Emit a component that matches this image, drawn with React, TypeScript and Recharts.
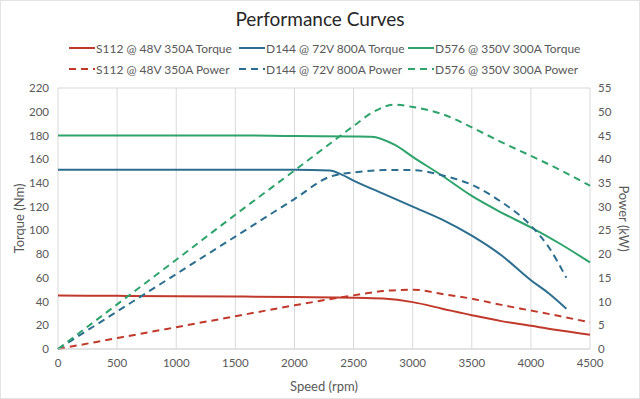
import React from 'react';
import {
  LineChart,
  Line,
  XAxis,
  YAxis,
  CartesianGrid,
} from 'recharts';

const speedTicks = [0, 500, 1000, 1500, 2000, 2500, 3000, 3500, 4000, 4500];
const torqueTicks = [0, 20, 40, 60, 80, 100, 120, 140, 160, 180, 200, 220];
const powerTicks = [0, 5, 10, 15, 20, 25, 30, 35, 40, 45, 50, 55];

const s112Speed = [0, 500, 1000, 1500, 2000, 2500, 2750, 3000, 3250, 3500, 3750, 4000, 4250, 4500];
const s112Torque = [45, 44.8, 44.5, 44.2, 43.8, 43.3, 42.5, 39.5, 34, 28.5, 23.5, 19.6, 15.5, 12];
const s112Power = [0, 2.3, 4.6, 6.9, 9.2, 11.3, 12.2, 12.5, 11.6, 10.6, 9.3, 8.1, 6.9, 5.6];

const d144Speed = [0, 500, 1000, 1500, 2000, 2300, 2400, 2500, 2750, 3000, 3250, 3500, 3750, 4000, 4150, 4300];
const d144Torque = [151, 151, 151, 151, 151, 150.5, 147, 142, 131, 120, 109, 95.5, 79, 58, 47, 34];
const d144Power = [0, 7.9, 15.8, 23.7, 31.6, 36.3, 36.9, 37.2, 37.7, 37.7, 36.6, 34.6, 31, 26, 21.5, 15];

const d576Speed = [0, 500, 1000, 1500, 2000, 2500, 2650, 2850, 3000, 3250, 3500, 3750, 4000, 4250, 4500];
const d576Torque = [180, 180, 180, 180, 179.5, 179.2, 179, 172, 162, 146, 129, 115, 102.5, 88.5, 73];
const d576Power = [0, 9.4, 18.8, 28.3, 37.6, 47, 49.7, 51.5, 51, 49.5, 46.7, 43.6, 40.7, 37.7, 34.4];

const RED = '#C0392B';
const BLUE = '#2C6E8F';
const GREEN = '#2EA36B';

const toRows = (speeds: number[], values: number[]) =>
  speeds.map((s, i) => ({ speed: s, value: values[i] }));

const series = [
  { name: 'S112 @ 48V 350A Torque', data: toRows(s112Speed, s112Torque), axis: 'torque', color: RED, dash: false },
  { name: 'D144 @ 72V 800A Torque', data: toRows(d144Speed, d144Torque), axis: 'torque', color: BLUE, dash: false },
  { name: 'D576 @ 350V 300A Torque', data: toRows(d576Speed, d576Torque), axis: 'torque', color: GREEN, dash: false },
  { name: 'S112 @ 48V 350A Power', data: toRows(s112Speed, s112Power), axis: 'power', color: RED, dash: true },
  { name: 'D144 @ 72V 800A Power', data: toRows(d144Speed, d144Power), axis: 'power', color: BLUE, dash: true },
  { name: 'D576 @ 350V 300A Power', data: toRows(d576Speed, d576Power), axis: 'power', color: GREEN, dash: true },
];

const legendCols = [68, 238, 407];
const legendRows = [47, 68];

const font = 'Lato, "Open Sans", sans-serif';
const tickStyle = { fill: '#595959', fontSize: 11.5 };

const App = () => {
  return (
    <div
      style={{
        position: 'absolute',
        left: 0,
        top: 0,
        width: 640,
        height: 399,
        background: '#fff',
        fontFamily: font,
        boxSizing: 'border-box',
        border: '1px solid #e3e3e3',
      }}
    >
      <div
        style={{
          position: 'absolute',
          top: 6,
          width: '100%',
          textAlign: 'center',
          fontSize: 19,
          color: '#262626',
        }}
      >
        Performance Curves
      </div>
      {series.map((s, i) => (
        <div
          key={s.name}
          style={{
            position: 'absolute',
            left: legendCols[i % 3],
            top: legendRows[Math.floor(i / 3)] - 8,
            height: 16,
            display: 'flex',
            alignItems: 'center',
            fontSize: 12,
            color: '#595959',
            whiteSpace: 'nowrap',
          }}
        >
          <svg width={26} height={4} style={{ marginRight: 1 }}>
            <line
              x1={0}
              y1={2}
              x2={26}
              y2={2}
              stroke={s.color}
              strokeWidth={2}
              strokeDasharray={s.dash ? '7 5' : undefined}
            />
          </svg>
          {s.name}
        </div>
      ))}
      <LineChart
        width={640}
        height={399}
        margin={{ top: 87, right: 0, bottom: 0, left: 0 }}
        style={{ position: 'absolute', left: 0, top: 0, fontFamily: font }}
      >
        <CartesianGrid stroke="#d9d9d9" />
        <XAxis
          type="number"
          dataKey="speed"
          domain={[0, 4500]}
          ticks={speedTicks}
          height={51}
          tickLine={false}
          axisLine={{ stroke: '#d9d9d9' }}
          tickSize={0}
          tickMargin={10}
          tick={tickStyle}
          label={{
            value: 'Speed (rpm)',
            position: 'insideBottom',
            offset: 9,
            style: { fill: '#595959', fontSize: 13 },
          }}
        />
        <YAxis
          yAxisId="torque"
          domain={[0, 220]}
          ticks={torqueTicks}
          width={57}
          tickLine={false}
          axisLine={false}
          tickSize={0}
          tickMargin={9}
          tick={tickStyle}
          label={{
            value: 'Torque (Nm)',
            angle: -90,
            position: 'insideLeft',
            offset: 18,
            style: { fill: '#595959', fontSize: 13, textAnchor: 'middle' },
          }}
        />
        <YAxis
          yAxisId="power"
          orientation="right"
          domain={[0, 55]}
          ticks={powerTicks}
          width={51}
          tickLine={false}
          axisLine={false}
          tickSize={0}
          tickMargin={8}
          tick={tickStyle}
          label={{
            value: 'Power (kW)',
            angle: 90,
            position: 'insideRight',
            offset: 17,
            style: { fill: '#595959', fontSize: 13, textAnchor: 'middle' },
          }}
        />
        {series.map((s) => (
          <Line
            key={s.name}
            name={s.name}
            data={s.data}
            dataKey="value"
            yAxisId={s.axis}
            type="monotone"
            stroke={s.color}
            strokeWidth={2}
            strokeDasharray={s.dash ? '7 5' : undefined}
            dot={false}
            isAnimationActive={false}
          />
        ))}
      </LineChart>
    </div>
  );
};

export default App;
